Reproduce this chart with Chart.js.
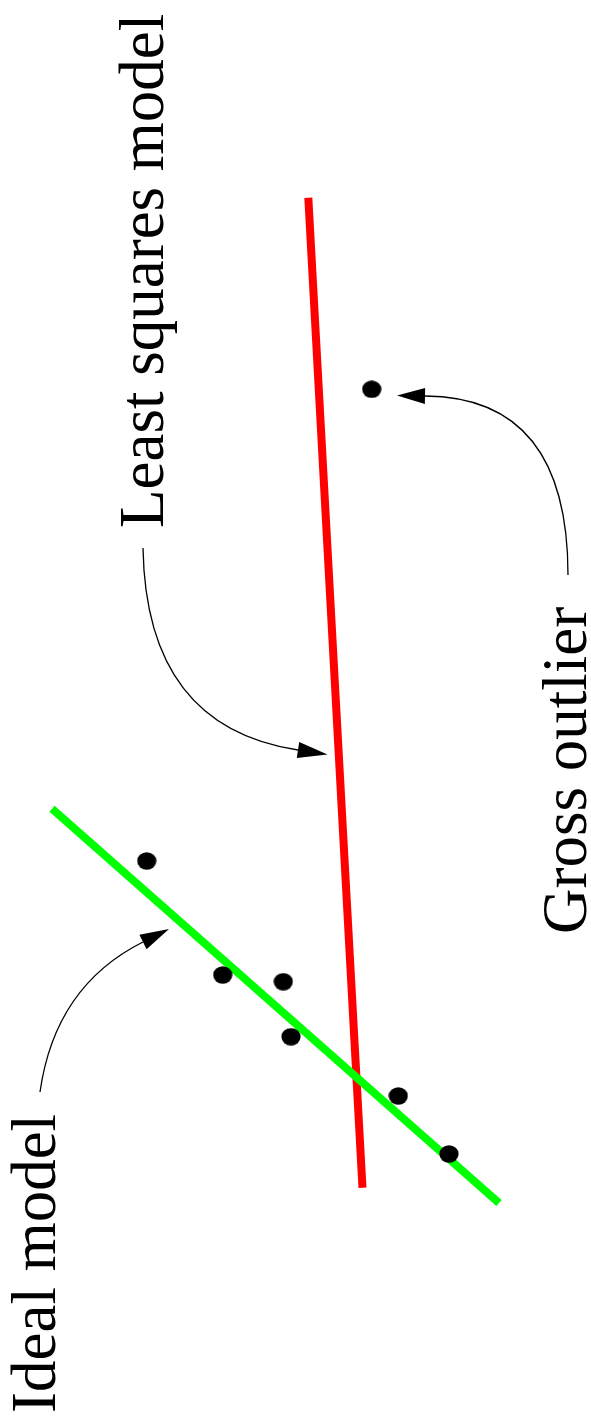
<!DOCTYPE html>
<html>
<head>
<meta charset="utf-8">
<script src="https://cdn.jsdelivr.net/npm/chart.js@4.4.1/dist/chart.umd.min.js"></script>
<style>
  html, body { margin: 0; padding: 0; background: #fff; }
  #wrap { width: 591px; height: 1424px; }
</style>
</head>
<body>
<div id="wrap"><canvas id="fig" width="591" height="1424"></canvas></div>
<script>
// data units: u across the page (0..591), v down the page (0..1424)
const sampleU = [146.7, 222.7, 283.3, 291.0, 398.3, 449.0];
const sampleV = [861.0, 975.0, 981.7, 1036.7, 1096.0, 1154.0];
const outlierU = [371.7];
const outlierV = [389.3];

const idealU = [52.0, 499.0];
const idealV = [808.7, 1203.0];
const lsqU = [308.3, 362.5];
const lsqV = [197.7, 1187.7];

const labels = ['Least squares model', 'Gross outlier', 'Ideal model'];
const labelU = [163, 586, 55];      // baseline
const labelV = [528, 934, 1413];    // where the text starts

// callout arrows: start of curve, control point, arrow base, arrow tip
const arrowStart = [[143, 548], [568, 575], [40, 1092]];
const arrowCtrl  = [[146, 727], [568, 397], [55, 986]];
const arrowBase  = [[298, 750], [425, 396], [143, 942]];
const arrowTip   = [[327.5, 754.5], [397, 395.5], [169, 929]];

const toPts = (us, vs) => us.map((u, i) => ({ x: u, y: vs[i] }));

// dots are a touch wider than tall
const dot = document.createElement('canvas');
dot.width = 20; dot.height = 18;
(function () {
  const c = dot.getContext('2d');
  c.fillStyle = '#000';
  c.beginPath();
  c.ellipse(10, 9, 9.6, 8.7, 0, 0, Math.PI * 2);
  c.fill();
})();

const annot = {
  id: 'annot',
  afterDatasetsDraw(chart) {
    const { ctx, scales: { x, y } } = chart;
    const px = p => [x.getPixelForValue(p[0]), y.getPixelForValue(p[1])];
    ctx.save();
    ctx.strokeStyle = '#000';
    ctx.fillStyle = '#000';
    ctx.lineWidth = 1.3;
    for (let i = 0; i < arrowStart.length; i++) {
      const s = px(arrowStart[i]), c = px(arrowCtrl[i]);
      const b = px(arrowBase[i]), t = px(arrowTip[i]);
      ctx.beginPath();
      ctx.moveTo(s[0], s[1]);
      ctx.quadraticCurveTo(c[0], c[1], b[0], b[1]);
      ctx.stroke();
      const dx = t[0] - b[0], dy = t[1] - b[1], len = Math.hypot(dx, dy);
      const nx = -dy / len * 8, ny = dx / len * 8;
      ctx.beginPath();
      ctx.moveTo(t[0], t[1]);
      ctx.lineTo(b[0] + nx, b[1] + ny);
      ctx.lineTo(b[0] - nx, b[1] - ny);
      ctx.closePath();
      ctx.fill();
    }
    ctx.font = '63px "Liberation Serif", "Times New Roman", serif';
    ctx.textAlign = 'left';
    ctx.textBaseline = 'alphabetic';
    labels.forEach((txt, i) => {
      const p = px([labelU[i], labelV[i]]);
      ctx.save();
      ctx.translate(p[0], p[1]);
      ctx.rotate(-Math.PI / 2);
      ctx.fillText(txt, 0, 0);
      ctx.restore();
    });
    ctx.restore();
  }
};

new Chart(document.getElementById('fig'), {
  type: 'scatter',
  data: {
    datasets: [
      {
        label: 'Data',
        data: toPts(sampleU, sampleV).concat(toPts(outlierU, outlierV)),
        pointStyle: dot,
        pointRadius: 9,
        backgroundColor: '#000',
        borderWidth: 0,
        order: 0
      },
      {
        label: 'Ideal model',
        data: toPts(idealU, idealV),
        showLine: true,
        borderColor: '#00ff00',
        borderWidth: 8,
        borderCapStyle: 'butt',
        pointRadius: 0,
        order: 1
      },
      {
        label: 'Least squares model',
        data: toPts(lsqU, lsqV),
        showLine: true,
        borderColor: '#ff0000',
        borderWidth: 8,
        borderCapStyle: 'butt',
        pointRadius: 0,
        order: 2
      }
    ]
  },
  options: {
    responsive: false,
    animation: false,
    devicePixelRatio: 1,
    layout: { padding: 0, autoPadding: false },
    plugins: { legend: { display: false }, tooltip: { enabled: false } },
    scales: {
      x: { type: 'linear', min: 0, max: 591, display: false },
      y: { type: 'linear', min: 0, max: 1424, reverse: true, display: false }
    }
  },
  plugins: [annot]
});
</script>
</body>
</html>
